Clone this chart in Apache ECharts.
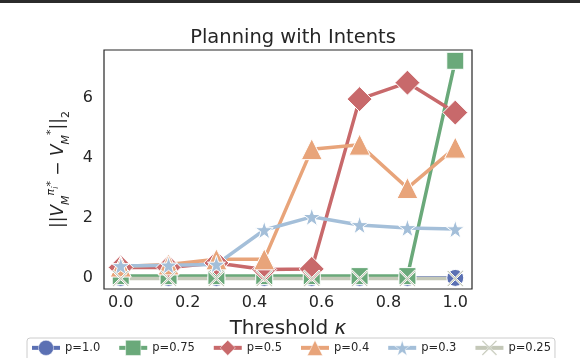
<!DOCTYPE html>
<html>
<head>
<meta charset="utf-8">
<script src="https://cdn.jsdelivr.net/npm/echarts@6/dist/echarts.min.js"></script>
<style>
  html, body { margin: 0; padding: 0; background: #fff; }
  #chart { width: 580px; height: 358px; }
</style>
</head>
<body>
<div id="chart"></div>
<script>
// threshold values on x
const thresholds = [0, 0.143, 0.286, 0.429, 0.571, 0.714, 0.857, 1.0]
const xTicks = [0, 0.2, 0.4, 0.6, 0.8, 1.0]
const yTicks = [0, 2, 4, 6]

const seriesNames = ['p=1.0', 'p=0.75', 'p=0.5', 'p=0.4', 'p=0.3', 'p=0.25']
const p100 = [0, 0, 0, 0, 0, 0, 0, 0]
const p075 = [0.06, 0.06, 0.06, 0.06, 0.06, 0.06, 0.06, 7.25]
const p050 = [0.35, 0.35, 0.5, 0.28, 0.3, 5.97, 6.52, 5.52]
const p040 = [0.38, 0.45, 0.62, 0.62, 4.3, 4.45, 3.0, 4.35]
const p030 = [0.4, 0.42, 0.45, 1.6, 2.04, 1.77, 1.67, 1.63]
const p025 = [-0.02, -0.02, -0.02, -0.02, -0.02, -0.02, -0.02, -0.02]

const starPath = 'path://M50,0 L61.8,35.4 L100,35.4 L69.1,57.3 L80.9,95.1 L50,73.2 L19.1,95.1 L30.9,57.3 L0,35.4 L38.2,35.4 Z'
const crossPath = 'path://M0,7 L7,0 L50,43 L93,0 L100,7 L57,50 L100,93 L93,100 L50,57 L7,100 L0,93 L43,50 Z'

const styles = [
  { data: p100, color: '#5b70b3', symbol: 'circle', size: 17 },
  { data: p075, color: '#6aa97a', symbol: 'rect', size: 17 },
  { data: p050, color: '#c8696b', symbol: 'diamond', size: 25 },
  { data: p040, color: '#e8a47a', symbol: 'triangle', size: 21 },
  { data: p030, color: '#a4bfd9', symbol: starPath, size: 18 },
  { data: p025, color: '#c4c8b8', symbol: crossPath, size: 17 }
]

const chart = echarts.init(document.getElementById('chart'))

const font = 'DejaVu Sans'
const ink = '#262626'

const option = {
  animation: false,
  textStyle: { fontFamily: font },
  title: {
    text: 'Planning with Intents',
    left: 288,
    textAlign: 'center',
    top: 23,
    textStyle: { fontFamily: font, fontSize: 19.5, fontWeight: 'normal', color: ink }
  },
  graphic: [{
    type: 'rect',
    shape: { x: 0, y: 0, width: 580, height: 3 },
    style: { fill: '#2b2b2b' }
  }],
  grid: {
    left: 104,
    top: 50,
    right: 108,
    bottom: 69,
    show: true,
    borderColor: ink,
    borderWidth: 1.2
  },
  legend: {
    data: seriesNames,
    left: 27,
    top: 338,
    itemWidth: 28,
    itemHeight: 19,
    itemGap: 17,
    padding: [2, 4, 12, 3],
    borderColor: '#cccccc',
    borderWidth: 1,
    borderRadius: 3,
    lineStyle: { width: 4 },
    itemStyle: { borderWidth: 0.5 },
    textStyle: { fontFamily: font, fontSize: 11.5, color: ink, width: 42 }
  },
  xAxis: {
    type: 'value',
    min: -0.05,
    max: 1.05,
    name: '{n|Threshold }{i|κ}',
    nameLocation: 'middle',
    nameGap: 30,
    nameTextStyle: {
      rich: {
        n: { fontFamily: font, fontSize: 20, color: ink },
        i: { fontFamily: font, fontSize: 20, fontStyle: 'italic', color: ink }
      }
    },
    axisLine: { show: false },
    axisTick: { show: false },
    splitLine: { show: false },
    axisLabel: {
      customValues: xTicks,
      formatter: v => v.toFixed(1),
      fontSize: 16,
      color: ink,
      margin: 6
    }
  },
  yAxis: {
    type: 'value',
    min: -0.37,
    max: 7.61,
    name: '{b|||}{v|V}{sub|M}{sup|π}{ss|i}{st|*}{b| − }{v|V}{sub|M}{st|*}{b|||}{s2|2}',
    nameLocation: 'middle',
    nameGap: 19,
    nameTextStyle: {
      rich: {
        b: { fontFamily: font, fontSize: 17, color: ink, lineHeight: 26 },
        v: { fontFamily: font, fontSize: 17, fontStyle: 'italic', color: ink, lineHeight: 26 },
        sub: { fontFamily: font, fontSize: 11, fontStyle: 'italic', color: ink, verticalAlign: 'bottom', padding: [10, 0, 0, 0] },
        sup: { fontFamily: font, fontSize: 11, fontStyle: 'italic', color: ink, verticalAlign: 'top' },
        ss: { fontFamily: font, fontSize: 8, fontStyle: 'italic', color: ink, verticalAlign: 'top', padding: [6, 0, 0, 0] },
        st: { fontFamily: font, fontSize: 11, color: ink, verticalAlign: 'top' },
        s2: { fontFamily: font, fontSize: 11, color: ink, verticalAlign: 'bottom', padding: [10, 0, 0, 0] }
      }
    },
    axisLine: { show: false },
    axisTick: { show: false },
    splitLine: { show: false },
    axisLabel: {
      customValues: yTicks,
      fontSize: 16,
      color: ink,
      margin: 11
    }
  },
  series: styles.map((s, k) => ({
    name: seriesNames[k],
    type: 'line',
    data: thresholds.map((x, i) => [x, s.data[i]]),
    symbol: s.symbol,
    symbolSize: s.size,
    showAllSymbol: true,
    lineStyle: { color: s.color, width: 3.5 },
    itemStyle: { color: s.color, borderColor: '#ffffff', borderWidth: 1, opacity: 1 },
    emphasis: { disabled: true }
  }))
}

chart.setOption(option)
</script>
</body>
</html>
